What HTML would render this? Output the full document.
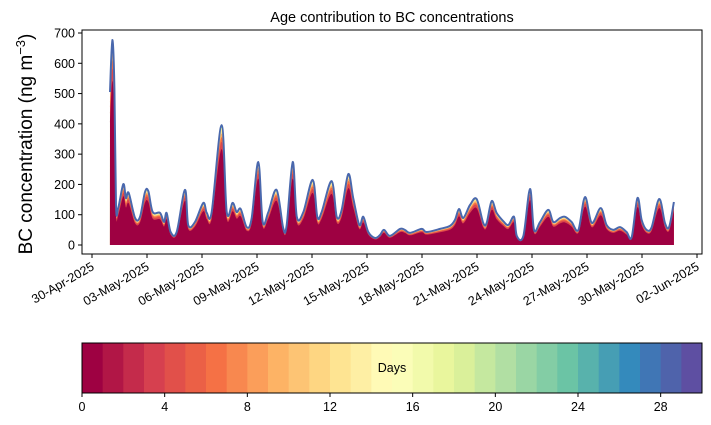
<!DOCTYPE html>
<html><head><meta charset="utf-8">
<style>
html,body{margin:0;padding:0;background:#fff;}
svg{display:block;font-family:"Liberation Sans","DejaVu Sans",sans-serif;}
</style></head>
<body>
<svg id="chart" width="711" height="425" viewBox="0 0 711 425"></svg>
<script>
// Data: day offset from 30-Apr-2025, total BC concentration (ng m^-3)
const days = [0.98,1.11,1.22,1.31,1.43,1.71,1.85,2.00,2.35,2.62,2.89,3.07,3.31,3.71,3.93,4.07,4.29,4.62,5.07,5.25,5.62,6.07,6.26,6.53,7.07,7.35,7.67,7.89,8.11,8.44,8.71,9.07,9.31,9.62,10.07,10.43,10.62,10.95,11.17,11.53,12.04,12.29,12.53,13.07,13.35,13.62,13.98,14.25,14.58,14.80,15.07,15.44,15.71,15.93,16.25,16.80,17.07,17.35,17.98,18.25,18.98,19.53,19.80,20.02,20.25,20.62,20.98,21.34,21.53,21.80,22.07,22.43,22.71,23.02,23.17,23.53,23.89,24.11,24.44,24.89,25.16,25.53,25.80,26.16,26.53,26.89,27.26,27.75,28.07,28.43,28.80,29.16,29.44,29.75,29.98,30.25,30.53,30.94,31.25,31.48,31.74];
const totals = [505,677,518,132,122,201,155,172,89,93,175,178,109,106,76,106,43,43,182,66,76,139,106,109,396,109,139,109,119,59,89,274,76,109,182,56,66,274,93,109,215,93,109,211,93,116,234,155,66,93,43,23,33,50,30,53,50,40,53,43,53,63,83,119,89,132,152,73,73,145,106,79,66,93,30,30,185,50,76,116,76,89,93,76,50,158,73,122,66,50,59,43,26,155,83,50,59,152,73,59,142];
const yTicks = [0,100,200,300,400,500,600,700];
const xTickDays = [0,3,6,9,12,15,18,21,24,27,30,33];
const xTickLabels = ["30-Apr-2025","03-May-2025","06-May-2025","09-May-2025","12-May-2025","15-May-2025","18-May-2025","21-May-2025","24-May-2025","27-May-2025","30-May-2025","02-Jun-2025"];
const layerFracs = [0.80,0.86,0.90,0.93,0.96,0.98,1.0];
const cbTicks = [0,4,8,12,16,20,24,28];

const NS="http://www.w3.org/2000/svg";
const svg=document.getElementById('chart');
function el(t,a,p){const e=document.createElementNS(NS,t);for(const k in a)e.setAttribute(k,a[k]);(p||svg).appendChild(e);return e;}
const L=82,R=702,T=30,B=254;
const xs=d=>92+d*18.333;
const ys=v=>245-v*0.30286;

const spec=["#9e0142","#d53e4f","#f46d43","#fdae61","#fee08b","#ffffbf","#e6f598","#abdda4","#66c2a5","#3288bd","#5e4fa2"];
function hex(h){return [1,3,5].map(i=>parseInt(h.substr(i,2),16));}
function cmap(t){const p=t*10,i=Math.min(9,Math.floor(p)),f=p-i;const a=hex(spec[i]),b=hex(spec[i+1]);return 'rgb('+a.map((v,k)=>Math.round(v+(b[k]-v)*f)).join(',')+')';}

// smooth path through points (Catmull-Rom)
function smooth(pts){
  let d='';
  for(let i=0;i<pts.length-1;i++){
    const p0=pts[Math.max(0,i-1)],p1=pts[i],p2=pts[i+1],p3=pts[Math.min(pts.length-1,i+2)];
    const c1=[p1[0]+(p2[0]-p0[0])/6,p1[1]+(p2[1]-p0[1])/6];
    const c2=[p2[0]-(p3[0]-p1[0])/6,p2[1]-(p3[1]-p1[1])/6];
    d+=' C'+c1[0].toFixed(1)+','+c1[1].toFixed(1)+' '+c2[0].toFixed(1)+','+c2[1].toFixed(1)+' '+p2[0].toFixed(1)+','+p2[1].toFixed(1);
  }
  return d;
}

const title=el('text',{x:392,y:22,'text-anchor':'middle','font-size':14.5,fill:'#000'});title.textContent='Age contribution to BC concentrations';



const layerColors=[cmap(0),cmap(0.12),cmap(0.2),cmap(0.3),cmap(0.42),cmap(0.6),cmap(0.85)];
for(let li=layerFracs.length-1;li>=0;li--){
  const pts=days.map((dd,i)=>[xs(dd),ys(totals[i]*layerFracs[li])]);
  let d='M'+xs(days[0])+','+ys(0)+' L'+pts[0][0].toFixed(1)+','+pts[0][1].toFixed(1)+smooth(pts);
  d+=' L'+xs(days[days.length-1])+','+ys(0)+' Z';
  const p=el('path',{d:d,fill:layerColors[li],stroke:'none'});
  
  
}
const lpts=days.map((dd,i)=>[xs(dd),ys(totals[i])]);
const line=el('path',{d:'M'+lpts[0][0].toFixed(1)+','+lpts[0][1].toFixed(1)+smooth(lpts),fill:'none',stroke:'#4a68ad','stroke-width':2,'stroke-linejoin':'round'});



const fr=el('rect',{x:L,y:T,width:R-L,height:B-T,fill:'none',stroke:'#000','stroke-width':1});


yTicks.forEach(v=>{
  el('line',{x1:L-4,x2:L,y1:ys(v),y2:ys(v),stroke:'#000'});
  const t=el('text',{x:L-7,y:ys(v)+4.5,'text-anchor':'end','font-size':12.5});t.textContent=v;
  
  
});
xTickDays.forEach((d,i)=>{
  const x=xs(d);
  el('line',{x1:x,x2:x,y1:B,y2:B+4,stroke:'#000'});
  const t=el('text',{x:x+3,y:B+15,'text-anchor':'end','font-size':12.5,transform:'rotate(-30 '+(x+3)+' '+(B+15)+')'});t.textContent=xTickLabels[i];
  
  
});
const yl=el('text',{x:32,y:144,'text-anchor':'middle','font-size':19,transform:'rotate(-90 32 144)'});
yl.innerHTML='BC concentration (ng m<tspan dy="-7" font-size="13">−3</tspan><tspan dy="7">)</tspan>';



const cbL=82,cbR=702,cbT=343,cbB=393,n=30,w=(cbR-cbL)/n;
for(let i=0;i<n;i++){
  const r=el('rect',{x:cbL+i*w,y:cbT,width:w+0.5,height:cbB-cbT,fill:cmap(i/(n-1))});
  
  
}
const cbf=el('rect',{x:cbL,y:cbT,width:cbR-cbL,height:cbB-cbT,fill:'none',stroke:'#000'});


cbTicks.forEach(v=>{
  const x=cbL+v*w;
  el('line',{x1:x,x2:x,y1:cbB,y2:cbB+4,stroke:'#000'});
  const t=el('text',{x:x,y:cbB+18,'text-anchor':'middle','font-size':12.5});t.textContent=v;
  
  
});
const cl=el('text',{x:392,y:372,'text-anchor':'middle','font-size':12.5});cl.textContent='Days';


</script>
</body></html>
